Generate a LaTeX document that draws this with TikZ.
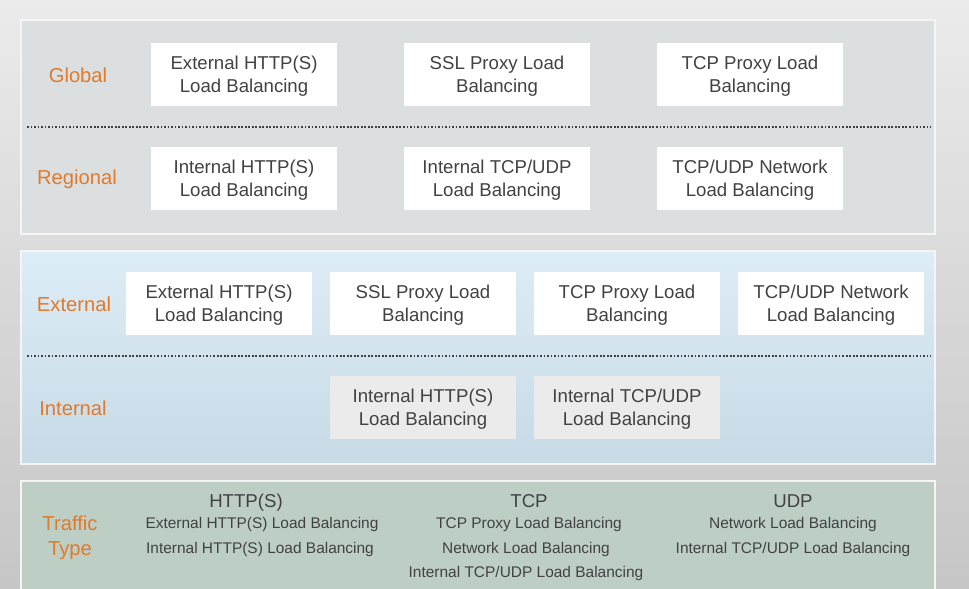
\documentclass[tikz,border=0pt]{standalone}
\usepackage{fontspec}
\setmainfont{Liberation Sans}
\usepackage{xcolor}
\definecolor{tierorange}{HTML}{E07A2C}
\definecolor{boxtext}{HTML}{424242}
\definecolor{pagetop}{HTML}{EBEBEB}
\definecolor{pagebot}{HTML}{C6C6C6}
\definecolor{scopegrey}{HTML}{DCDFE0}
\definecolor{reachtop}{HTML}{DDEDF7}
\definecolor{reachbot}{HTML}{C7DAE5}
\definecolor{traffic}{HTML}{BDCEC5}
\definecolor{intbox}{HTML}{EBEBEB}

\begin{document}
\begin{tikzpicture}[
			     x=0.02cm, y=-0.02cm,
			     panel/.style={draw=white!92!gray, line width=1.2pt},
			     lbbox/.style={fill=white, text=boxtext, align=center,
			       minimum width=3.72cm, minimum height=1.26cm, inner sep=0pt,
			       text depth=-2.2pt,
			       font=\fontsize{10.6}{13.2}\selectfont},
			     tier/.style={text=tierorange, align=center, font=\fontsize{11.5}{14}\selectfont},
			     divider/.style={draw=black!75, line width=1pt, dash pattern=on 1pt off 1pt},
			     header/.style={text=boxtext, text height=7.6pt, text depth=0pt,
			       font=\fontsize{10.6}{13}\selectfont},
			     entry/.style={text=boxtext, text height=6.3pt, text depth=0pt,
			       font=\fontsize{8.8}{11}\selectfont}
			     ]
\useasboundingbox (0,0) rectangle (969,588);
\clip (0,0) rectangle (969,588);
\shade[top color=pagetop, bottom color=pagebot] (0,0) rectangle (969,588);

% scope panel
\draw[panel, fill=scopegrey] (21,20) rectangle (935,234);
\draw[divider] (27,127) -- (931,127);
\node[tier] (global) at (78,75) {Global};
\node[tier] (regional) at (77,179) {Regional};
\foreach \x/\t [count=\i] in {244/{External HTTP(S)\\Load Balancing},
                              497/{SSL Proxy Load\\Balancing},
                              750/{TCP Proxy Load\\Balancing}}
  \node[lbbox] (glob-\i) at (\x,74.5) {\t};
\foreach \x/\t [count=\i] in {244/{Internal HTTP(S)\\Load Balancing},
                              497/{Internal TCP/UDP\\Load Balancing},
                              750/{TCP/UDP Network\\Load Balancing}}
  \node[lbbox] (reg-\i) at (\x,178.5) {\t};

% reach panel
\draw[panel, top color=reachtop, bottom color=reachbot] (21,251) rectangle (935,464);
\draw[divider] (27,356) -- (931,356);
\node[tier] (external) at (74,304) {External};
\node[tier] (internal) at (73,408) {Internal};
\foreach \x/\t [count=\i] in {219/{External HTTP(S)\\Load Balancing},
                              423/{SSL Proxy Load\\Balancing},
                              627/{TCP Proxy Load\\Balancing},
                              831/{TCP/UDP Network\\Load Balancing}}
  \node[lbbox] (ext-\i) at (\x,303.5) {\t};
\foreach \x/\t [count=\i] in {423/{Internal HTTP(S)\\Load Balancing},
                              627/{Internal TCP/UDP\\Load Balancing}}
  \node[lbbox, fill=intbox] (int-\i) at (\x,407.5) {\t};

% traffic type panel
\draw[panel, fill=traffic] (21,481) rectangle (935,600);
\node[tier] (traffictype) at (70,538) {Traffic\\Type};
\node[header] (http) at (246,501) {HTTP(S)};
\node[header] (tcp) at (529,501) {TCP};
\node[header] (udp) at (793,501) {UDP};
\node[entry] (http-1) at (262,523) {External HTTP(S) Load Balancing};
\node[entry] (http-2) at (260,548) {Internal HTTP(S) Load Balancing};
\node[entry] (tcp-1) at (529,523) {TCP Proxy Load Balancing};
\node[entry] (tcp-2) at (526,548) {Network Load Balancing};
\node[entry] (tcp-3) at (526,572) {Internal TCP/UDP Load Balancing};
\node[entry] (udp-1) at (793,523) {Network Load Balancing};
\node[entry] (udp-2) at (793,548) {Internal TCP/UDP Load Balancing};
\end{tikzpicture}
\end{document}
